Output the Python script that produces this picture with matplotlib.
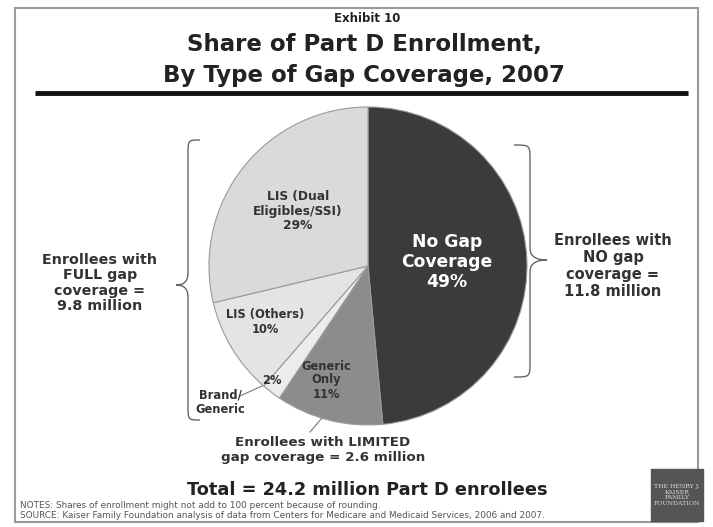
import matplotlib
matplotlib.use("Agg")
import matplotlib.pyplot as plt
from matplotlib.path import Path
from matplotlib.patches import PathPatch, Rectangle

W, H = 713, 527

# slices, clockwise from the top
labels = ["No Gap\nCoverage\n49%", "Generic\nOnly\n11%", "2%", "LIS (Others)\n10%",
          "LIS (Dual\nEligibles/SSI)\n29%"]
shares = [49, 11, 2, 10, 29]
colors = ["#3b3b3b", "#8c8c8c", "#ececec", "#e4e4e4", "#dadada"]

title = "Share of Part D Enrollment,\nBy Type of Gap Coverage, 2007"
left_label = "Enrollees with\nFULL gap\ncoverage =\n9.8 million"
right_label = "Enrollees with\nNO gap\ncoverage =\n11.8 million"
limited_label = "Enrollees with LIMITED\ngap coverage = 2.6 million"
total_label = "Total = 24.2 million Part D enrollees"
notes = ["NOTES: Shares of enrollment might not add to 100 percent because of rounding.",
         "SOURCE: Kaiser Family Foundation analysis of data from Centers for Medicare and Medicaid Services, 2006 and 2007."]


def Y(y):
    # pixel row -> data y
    return H - y


fig = plt.figure(figsize=(W / 100, H / 100), dpi=100)
ax = fig.add_axes([0, 0, 1, 1])

# frame and rule
ax.add_patch(Rectangle((15, Y(522)), 683, 514, fill=False, ec="#9a9a9a", lw=1.5))
ax.plot([35, 688], [Y(93), Y(93)], color="#111111", lw=3.5, solid_capstyle="butt")

ax.text(367, Y(18), "Exhibit 10", ha="center", va="center", fontsize=8.5, weight="bold", color="#222222")
ax.text(364, Y(60), title, ha="center", va="center", fontsize=16.5, weight="bold", color="#222222",
        linespacing=1.4)

# pie
wedges, _ = ax.pie(shares, colors=colors, startangle=90, counterclock=False,
                   center=(368, Y(266)), radius=159, frame=True,
                   wedgeprops=dict(edgecolor="#9a9a9a", linewidth=0.8))
ax.set_xlim(0, W)
ax.set_ylim(0, H)
ax.set_aspect("equal")
ax.axis("off")

txt = dict(ha="center", va="center", weight="bold", color="#333333")
ax.text(447, Y(262), labels[0], fontsize=12.3, color="white", ha="center", va="center",
        weight="bold", linespacing=1.15)
ax.text(326, Y(380), labels[1], fontsize=8.3, linespacing=1.1, **txt)
ax.text(272, Y(381), labels[2], fontsize=8.3, **txt)
ax.text(265, Y(322), labels[3], fontsize=8.3, linespacing=1.15, **txt)
ax.text(298, Y(211), labels[4], fontsize=8.8, linespacing=1.15, **txt)

ax.text(220, Y(402), "Brand/\nGeneric", fontsize=8.3, linespacing=1.15, **txt)
ax.plot([240, 262], [Y(396), Y(386)], color="#777777", lw=0.8)
ax.plot([310, 322], [Y(432), Y(418)], color="#777777", lw=0.8)

ax.text(100, Y(283), left_label, fontsize=10.3, linespacing=1.15, **txt)
ax.text(613, Y(266), right_label, fontsize=10.5, linespacing=1.15, **txt)
ax.text(323, Y(450), limited_label, fontsize=9.7, linespacing=1.15, **txt)
ax.text(367, Y(490), total_label, fontsize=12.8, ha="center", va="center", weight="bold",
        color="#222222")
ax.text(20, Y(506), notes[0], fontsize=6.4, color="#555555", va="center")
ax.text(20, Y(516), notes[1], fontsize=6.4, color="#555555", va="center")


def brace(x_end, x_mid, x_tip, y_top, y_tip, y_bot):
    verts = [(x_end, Y(y_top)),
             (x_mid, Y(y_top)), (x_mid, Y(y_top)), (x_mid, Y(y_top + 15)),
             (x_mid, Y(y_tip - 12)),
             (x_mid, Y(y_tip - 2)), (x_mid + (x_tip - x_mid) * 0.5, Y(y_tip)), (x_tip, Y(y_tip)),
             (x_mid + (x_tip - x_mid) * 0.5, Y(y_tip)), (x_mid, Y(y_tip + 2)), (x_mid, Y(y_tip + 12)),
             (x_mid, Y(y_bot - 15)),
             (x_mid, Y(y_bot)), (x_mid, Y(y_bot)), (x_end, Y(y_bot))]
    codes = [Path.MOVETO,
             Path.CURVE4, Path.CURVE4, Path.CURVE4,
             Path.LINETO,
             Path.CURVE4, Path.CURVE4, Path.CURVE4,
             Path.CURVE4, Path.CURVE4, Path.CURVE4,
             Path.LINETO,
             Path.CURVE4, Path.CURVE4, Path.CURVE4]
    ax.add_patch(PathPatch(Path(verts, codes), fill=False, ec="#666666", lw=1.0))


brace(200, 188, 176, 140, 285, 420)
brace(514, 530, 547, 145, 260, 377)

# logo box
ax.add_patch(Rectangle((651, Y(521)), 52, 52, color="#555555"))
ax.text(677, Y(495), "THE HENRY J.\nKAISER\nFAMILY\nFOUNDATION", fontsize=4.5, color="#d8d8d8",
        ha="center", va="center", family="serif", linespacing=1.1)

fig.savefig("out.png", dpi=100)
